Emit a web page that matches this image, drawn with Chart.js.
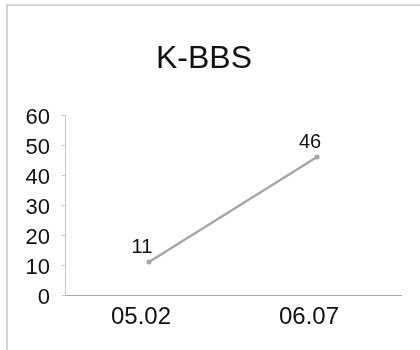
<!DOCTYPE html>
<html>
<head>
<meta charset="utf-8">
<script src="https://cdn.jsdelivr.net/npm/chart.js@4"></script>
<style>
  html, body { margin: 0; padding: 0; background: #ffffff; }
  #wrap { position: relative; width: 420px; height: 350px; overflow: hidden; }
  #frame {
    position: absolute; left: 6px; top: 4px; width: 420px; height: 350px;
    border-top: 2px solid #d4d4d4; border-left: 2px solid #d4d4d4;
  }
  #chart { position: absolute; left: 0; top: 0; }
</style>
</head>
<body>
<div id="wrap">
  <div id="frame"></div>
  <canvas id="chart" width="420" height="350"></canvas>
</div>
<script>
const chartTitle = 'K-BBS';
const categories = ['05.02', '06.07'];
const values = [11, 46];
const yTicks = [0, 10, 20, 30, 40, 50, 60];

const FONT = '"Liberation Sans", Arial, Helvetica, sans-serif';

// Writes each point's value just above and slightly left of its marker
const valueLabels = {
  id: 'valueLabels',
  afterDatasetsDraw(chart) {
    const ctx = chart.ctx;
    const meta = chart.getDatasetMeta(0);
    ctx.save();
    ctx.font = '20px ' + FONT;
    ctx.fillStyle = '#111111';
    ctx.textAlign = 'center';
    ctx.textBaseline = 'bottom';
    meta.data.forEach((pt, i) => {
      ctx.fillText(String(chart.data.datasets[0].data[i]), pt.x - 7, pt.y - 5);
    });
    ctx.restore();
  }
};

new Chart(document.getElementById('chart'), {
  type: 'line',
  data: {
    labels: categories,
    datasets: [{
      data: values,
      borderColor: '#a6a6a6',
      backgroundColor: '#a6a6a6',
      borderWidth: 2.5,
      pointRadius: 2.5,
      pointBackgroundColor: '#a6a6a6',
      pointBorderWidth: 0,
      tension: 0,
      fill: false
    }]
  },
  options: {
    responsive: false,
    animation: false,
    layout: { padding: { top: 0, left: 7, right: 19, bottom: 11 } },
    plugins: {
      legend: { display: false },
      tooltip: { enabled: false },
      title: {
        display: true,
        text: chartTitle,
        color: '#111111',
        font: { family: FONT, size: 32, weight: 'normal', lineHeight: 1.2 },
        padding: { top: 40, bottom: 36.6 }
      }
    },
    scales: {
      x: {
        offset: true,
        grid: { display: false, drawTicks: false },
        border: { display: true, color: '#a8a8a8', width: 1 },
        ticks: {
          color: '#111111',
          font: { family: FONT, size: 24 },
          padding: 7.6,
          labelOffset: -8,
          maxRotation: 0
        }
      },
      y: {
        min: 0,
        max: 60,
        afterBuildTicks(scale) { scale.ticks = yTicks.map(v => ({ value: v })); },
        afterFit(scale) { scale.width = 58; },
        grid: { drawOnChartArea: false, tickLength: 3, color: '#c4c4c4' },
        border: { display: true, color: '#c8c8c8', width: 1 },
        ticks: {
          color: '#111111',
          font: { family: FONT, size: 22 },
          padding: 12,
          labelOffset: 3
        }
      }
    }
  },
  plugins: [valueLabels]
});
</script>
</body>
</html>
